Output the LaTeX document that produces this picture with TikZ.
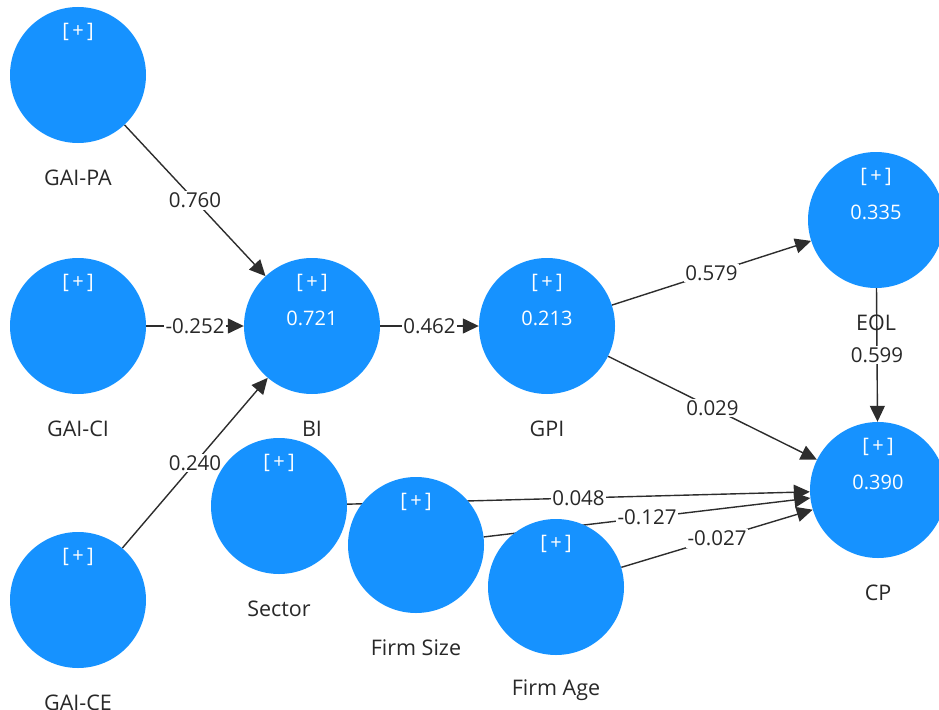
\documentclass[tikz,border=0pt]{standalone}
\usepackage{fontspec}
\setmainfont{Open Sans}
\usetikzlibrary{arrows.meta}
\pgfdeclarelayer{background}
\pgfsetlayers{background,main}
\definecolor{lvblue}{RGB}{22,146,255}
\definecolor{pathgray}{RGB}{45,45,45}
\definecolor{captiongray}{RGB}{40,40,40}

% latent variable: name, x, y, R-squared, caption
\newcommand\latentvar[5]{%
  \node[latent] (#1) at (#2,#3) {};
  \node[intext] (#1-plus) at ([yshift=43pt]#1.center) {[\,+\,]};
  \node[intext] (#1-rsq) at ([yshift=8pt]#1.center) {#4};
  \node[caption] (#1-name) at ([yshift=-103pt]#1.center) {#5};
}

\begin{document}
\begin{tikzpicture}[x=1pt,y=-1pt,
  latent/.style={circle,fill=lvblue,minimum size=136pt,inner sep=0pt},
  intext/.style={text=white,inner sep=0pt,font=\fontsize{20}{23}\selectfont},
  caption/.style={text=captiongray,inner sep=0pt,font=\fontsize{21.5}{24}\selectfont},
  coef/.style={fill=white,inner sep=1.5pt,text=captiongray,font=\fontsize{20.5}{23}\selectfont},
  pathline/.style={draw=pathgray,line width=1.4pt,-{Triangle[length=16pt,width=15pt]}}
]
\useasboundingbox (0,0) rectangle (939,709);

\latentvar{gaipa}{78}{75}{}{GAI-PA}
\latentvar{gaici}{78}{326}{}{GAI-CI}
\latentvar{gaice}{78}{600}{}{GAI-CE}
\latentvar{bi}{312}{326}{0.721}{BI}
\latentvar{gpi}{547}{326}{0.213}{GPI}
\latentvar{eol}{876}{220}{0.335}{EOL}
\latentvar{cp}{878}{490}{0.390}{CP}
\latentvar{sector}{279}{506}{}{Sector}
\latentvar{fsize}{416}{545}{}{Firm Size}
\latentvar{fage}{556}{587}{}{Firm Age}

\begin{pgfonlayer}{background}
  \draw[pathline] (gaipa) -- node[coef] {0.760} (bi);
  \draw[pathline] (gaici) -- node[coef] {-0.252} (bi);
  \draw[pathline] (gaice) -- node[coef] {0.240} (bi);
  \draw[pathline] (bi) -- node[coef] {0.462} (gpi);
  \draw[pathline] (gpi) -- node[coef] {0.579} (eol);
  \draw[pathline] (gpi) -- node[coef] {0.029} (cp);
  \draw[pathline] (eol) -- node[coef] {0.599} (cp);
  \draw[pathline] (sector) -- node[coef] {0.048} (cp);
  \draw[pathline] (fsize) -- node[coef] {-0.127} (cp);
  \draw[pathline] (fage) -- node[coef] {-0.027} (cp);
\end{pgfonlayer}
\end{tikzpicture}
\end{document}
